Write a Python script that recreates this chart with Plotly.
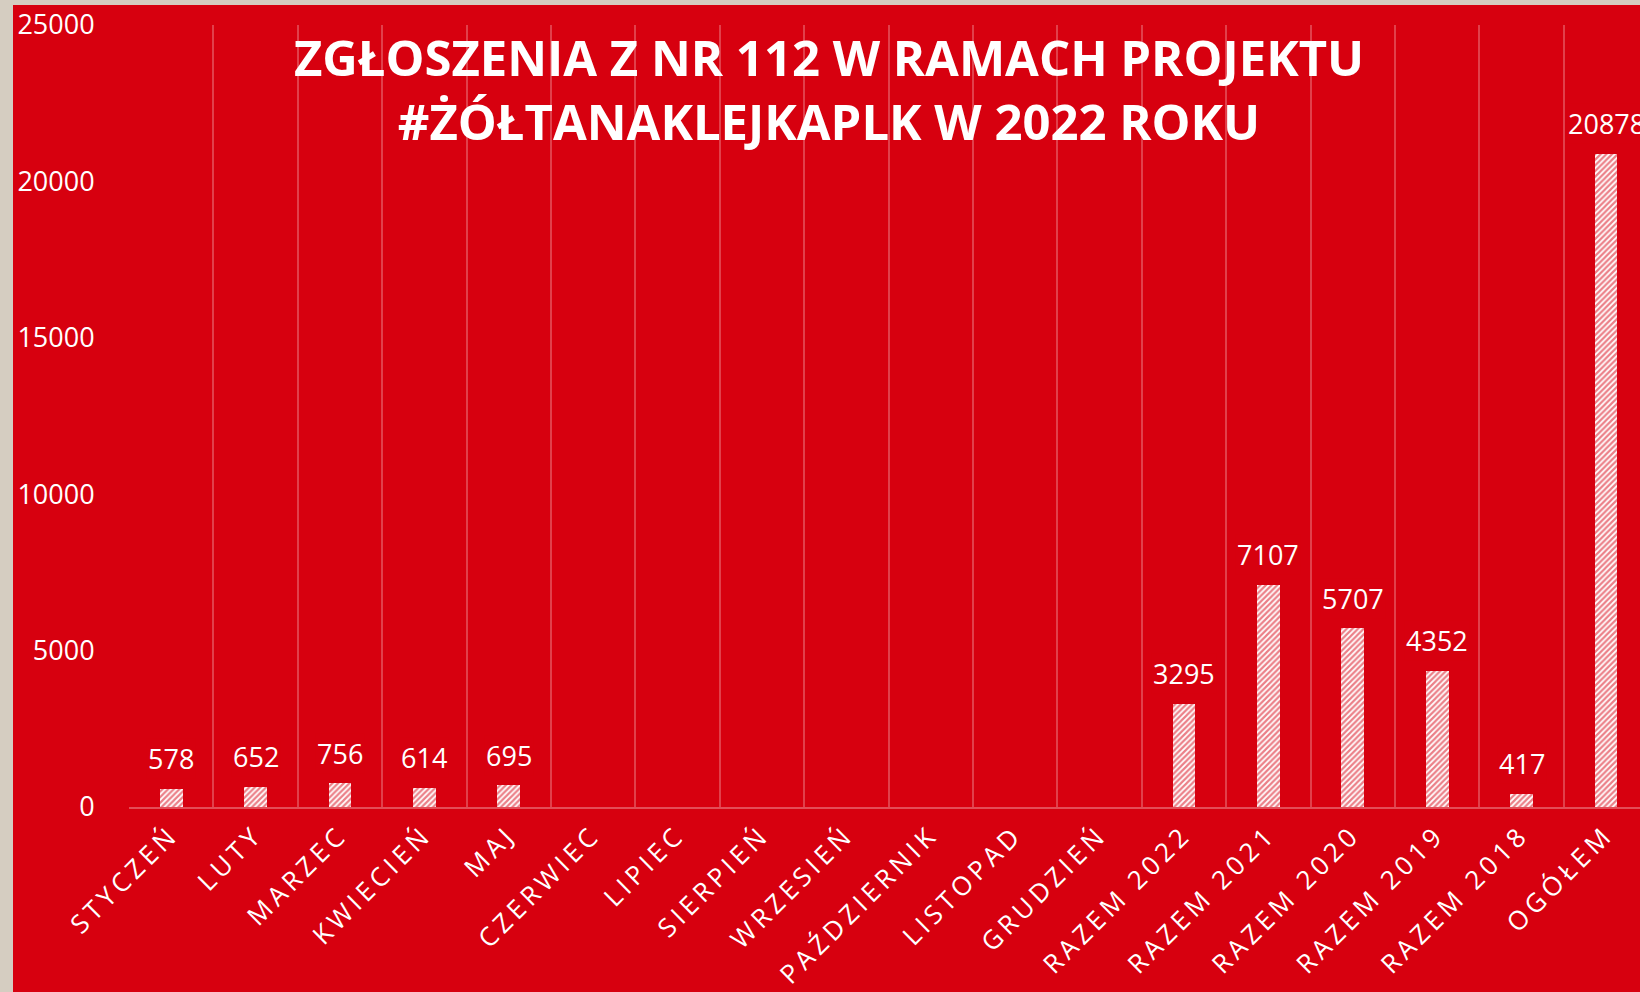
import plotly.graph_objects as go

categories = ["STYCZEŃ", "LUTY", "MARZEC", "KWIECIEŃ", "MAJ", "CZERWIEC", "LIPIEC",
              "SIERPIEŃ", "WRZESIEŃ", "PAŹDZIERNIK", "LISTOPAD", "GRUDZIEŃ",
              "RAZEM 2022", "RAZEM 2021", "RAZEM 2020", "RAZEM 2019", "RAZEM 2018", "OGÓŁEM"]
values = [578, 652, 756, 614, 695, None, None, None, None, None, None, None,
          3295, 7107, 5707, 4352, 417, 20878]
y_ticks = [0, 5000, 10000, 15000, 20000, 25000]
title_lines = ["ZGŁOSZENIA Z NR 112 W RAMACH PROJEKTU", "#ŻÓŁTANAKLEJKAPLK W 2022 ROKU"]

RED = "#d7000f"
BEIGE = "#d5cdc1"
W, H = 1640, 992
ML, MR, MT, MB = 129, 0, 25, 185
PW = W - ML - MR
PH = H - MT - MB
CAT_W = 84.4

def px_x(x):
    return (x - ML) / PW

def px_y(y):
    return (H - MB - y) / PH

fig = go.Figure()
fig.add_trace(go.Bar(
    x=categories, y=values, width=0.27,
    marker=dict(color="white", line=dict(width=0),
                pattern=dict(shape="/", fgcolor=RED, bgcolor="white", size=4, solidity=0.55)),
    hoverinfo="x+y",
))

annotations = []
for c, v in zip(categories, values):
    if v is None:
        continue
    annotations.append(dict(x=c, y=v, xref="x", yref="y", text=str(v), showarrow=False,
                            yanchor="middle", yshift=30, bgcolor=RED, borderpad=1,
                            font=dict(family="Open Sans", size=27, color="white")))

shapes = [
    dict(type="rect", xref="paper", yref="paper", x0=px_x(0), x1=px_x(13), y0=px_y(H), y1=px_y(0),
         fillcolor=BEIGE, line=dict(width=0), layer="above"),
    dict(type="rect", xref="paper", yref="paper", x0=px_x(0), x1=px_x(W), y0=px_y(5), y1=px_y(0),
         fillcolor=BEIGE, line=dict(width=0), layer="above"),
]

fig.update_layout(
    width=W, height=H,
    margin=dict(l=ML, r=MR, t=MT, b=MB, pad=0),
    paper_bgcolor=RED, plot_bgcolor=RED,
    showlegend=False,
    title=dict(text="<br>".join(title_lines), x=829 / W, xanchor="center",
               y=1 - 76 / H, yanchor="middle",
               font=dict(family="Open Sans", size=49, color="white", weight="bold")),
    annotations=annotations,
    shapes=shapes,
    xaxis=dict(range=[-0.5, -0.5 + PW / CAT_W], tickson="boundaries", showgrid=True,
               gridcolor="rgba(255,255,255,0.25)", gridwidth=1.5,
               showline=True, linecolor="rgba(255,255,255,0.3)", linewidth=2,
               ticks="outside", ticklen=30, tickcolor="rgba(0,0,0,0)",
               tickangle=-45, tickfont=dict(family="Open Sans", size=26, color="white"),
               fixedrange=True),
    yaxis=dict(range=[0, 25000], tickvals=y_ticks, tickformat="d", showgrid=False,
               zeroline=False, showline=False,
               ticks="outside", ticklen=28, tickcolor="rgba(0,0,0,0)",
               tickfont=dict(family="Open Sans", size=27, color="white"),
               fixedrange=True),
    bargap=0,
)

post = (
    "document.body.style.margin='0';"
    "document.body.style.background='%s';"
    "document.querySelectorAll('.xtick text').forEach(function(t){t.style.letterSpacing='4.5px';});"
) % BEIGE

fig.write_html("out.html", config={"displayModeBar": False}, post_script=post)
